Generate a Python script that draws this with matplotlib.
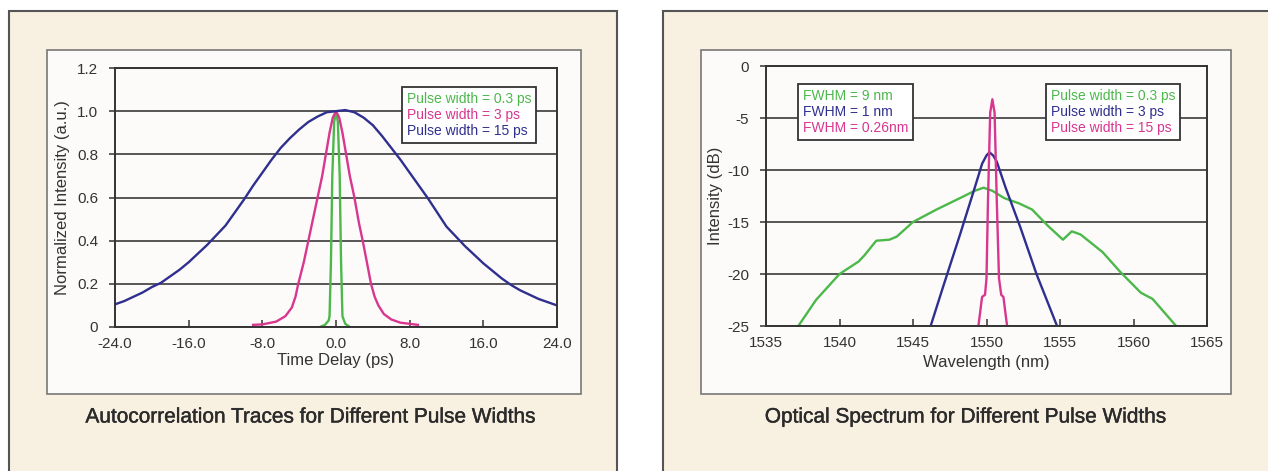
import matplotlib
matplotlib.use("Agg")
import matplotlib.pyplot as plt
import matplotlib.patheffects as pe
from matplotlib.patches import Rectangle

# --- data ---
# autocorrelation traces
t_03 = [-1.75, -1.2, -0.8, -0.7, -0.55, -0.4, -0.2, 0.0, 0.2, 0.4, 0.55, 0.7, 1.0, 1.5]
a_03 = [0.0, 0.01, 0.03, 0.05, 0.3, 0.7, 0.95, 1.0, 0.95, 0.7, 0.3, 0.05, 0.015, 0.0]

t_3 = [-9.0, -8.0, -6.5, -5.5, -4.8, -4.4, -4.1, -3.5, -3.0, -2.5, -2.0, -1.5, -1.1, -0.7, -0.35, 0.0,
       0.35, 0.7, 1.1, 1.5, 2.0, 2.5, 2.9, 3.4, 3.8, 4.2, 4.6, 5.2, 6.0, 7.0, 8.9]
a_3 = [0.01, 0.012, 0.025, 0.05, 0.09, 0.14, 0.2, 0.3, 0.4, 0.5, 0.6, 0.7, 0.8, 0.9, 0.97, 1.0,
       0.97, 0.9, 0.8, 0.7, 0.6, 0.48, 0.4, 0.29, 0.2, 0.14, 0.1, 0.06, 0.035, 0.02, 0.01]

t_15 = [-24, -23, -22, -21, -20, -19, -18, -17, -16, -15, -14, -13, -12, -11, -10, -9, -8,
        -7, -6, -5, -4, -3, -2, -1, 0, 1, 2, 3, 4, 5, 6, 7, 8, 9, 10, 11, 12, 13, 14, 15,
        16, 17, 18, 19, 20, 21, 22, 23, 24]
a_15 = [0.105, 0.12, 0.14, 0.16, 0.185, 0.205, 0.235, 0.265, 0.30, 0.34, 0.38, 0.425, 0.47,
        0.53, 0.59, 0.655, 0.715, 0.775, 0.83, 0.875, 0.915, 0.95, 0.975, 0.995, 1.0, 1.005,
        0.995, 0.97, 0.935, 0.885, 0.83, 0.775, 0.715, 0.655, 0.595, 0.53, 0.465, 0.42, 0.375,
        0.335, 0.295, 0.26, 0.225, 0.195, 0.17, 0.15, 0.13, 0.115, 0.10]

# optical spectra
wl_03 = [1537.2, 1538.4, 1540.0, 1541.3, 1541.7, 1542.5, 1543.4, 1543.9, 1545.0, 1546.6,
         1548.2, 1549.2, 1549.8, 1550.4, 1551.2, 1552.2, 1553.1, 1554.2, 1555.2, 1555.8,
         1556.4, 1557.9, 1559.1, 1560.5, 1561.3, 1562.9]
db_03 = [-25.0, -22.5, -20.0, -18.8, -18.2, -16.8, -16.7, -16.4, -15.0, -13.8,
         -12.7, -12.0, -11.7, -12.0, -12.7, -13.2, -13.8, -15.4, -16.7, -15.9,
         -16.2, -17.9, -19.8, -21.8, -22.4, -25.0]

wl_3 = [1546.2, 1547.1, 1548.2, 1549.2, 1549.7, 1550.0, 1550.2, 1550.45, 1550.7, 1551.3,
        1552.3, 1553.4, 1554.8]
db_3 = [-25.0, -21.0, -16.2, -11.7, -9.4, -8.6, -8.3, -8.6, -9.2, -11.7, -15.5, -20.0, -25.0]

wl_15 = [1549.45, 1549.7, 1549.9, 1550.0, 1550.1, 1550.25, 1550.4, 1550.55, 1550.7,
         1550.85, 1551.0, 1551.15, 1551.4]
db_15 = [-25.0, -22.2, -22.0, -20.4, -13.0, -4.5, -3.2, -4.5, -13.0,
         -20.4, -22.0, -22.2, -25.0]

pulse_labels = ["Pulse width = 0.3 ps", "Pulse width = 3 ps", "Pulse width = 15 ps"]
fwhm_labels = ["FWHM = 9 nm", "FWHM = 1 nm", "FWHM = 0.26nm"]
t_ticks = [-24, -16, -8, 0, 8, 16, 24]
a_ticks = [0, 0.2, 0.4, 0.6, 0.8, 1.0, 1.2]
wl_ticks = [1535, 1540, 1545, 1550, 1555, 1560, 1565]
db_ticks = [0, -5, -10, -15, -20, -25]

GREEN = "#4cb84a"
PINK = "#d8368f"
NAVY = "#2f2f8f"
BEIGE = "#f8f0e1"
INNER = "#fcfbfa"
DARK = "#3a3a3a"

plt.rcParams["font.family"] = ["Liberation Sans", "DejaVu Sans"]
plt.rcParams["axes.unicode_minus"] = False

W, H = 1268, 471
fig = plt.figure(figsize=(W / 100, H / 100), dpi=100)
fig.patch.set_facecolor("white")


def px_rect(x0, y0, x1, y1, fc, ec, lw):
    r = Rectangle((x0 / W, 1 - y1 / H), (x1 - x0) / W, (y1 - y0) / H,
                  transform=fig.transFigure, facecolor=fc, edgecolor=ec, linewidth=lw, zorder=-5)
    fig.patches.append(r)


# outer beige panels and inner white boxes
px_rect(9, 11, 617, 480, BEIGE, "#555555", 1.5)
px_rect(663, 11, 1280, 480, BEIGE, "#555555", 1.5)
px_rect(47, 50, 581, 394, INNER, "#777777", 1.2)
px_rect(701, 50, 1231, 394, INNER, "#777777", 1.2)


def axes_px(x0, y0, x1, y1):
    return fig.add_axes([x0 / W, 1 - y1 / H, (x1 - x0) / W, (y1 - y0) / H])


def style(ax):
    ax.set_facecolor("none")
    for s in ax.spines.values():
        s.set_color("#333333")
        s.set_linewidth(1.4)
    ax.grid(axis="y", color=DARK, linewidth=1.2)
    ax.set_axisbelow(True)
    ax.tick_params(axis="x", direction="in", length=5, width=1.1, color="#333333",
                   labelsize=11, labelcolor="#333333", pad=7)
    ax.tick_params(axis="y", direction="out", length=4, width=1.1, color="#333333",
                   labelsize=11, labelcolor="#333333", pad=8)


def text_legend(ax, handles, labels, x, y):
    leg = ax.legend(handles, labels, loc="upper left", bbox_to_anchor=(x, y),
                    borderaxespad=0, handlelength=0, handletextpad=0, fontsize=10,
                    labelcolor=[h.get_color() for h in handles], frameon=True,
                    fancybox=False, edgecolor="#333333", framealpha=1,
                    borderpad=0.35, labelspacing=0.15)
    leg.get_frame().set_linewidth(1.3)
    for h in leg.legend_handles:
        h.set_visible(False)
    return leg


# left: autocorrelation
ax1 = axes_px(115, 68, 557, 327)
style(ax1)
l1, = ax1.plot(t_03, a_03, color=GREEN, lw=1.7)
l2, = ax1.plot(t_3, a_3, color=PINK, lw=1.7)
l3, = ax1.plot(t_15, a_15, color=NAVY, lw=1.7)
ax1.set_xlim(-24, 24)
ax1.set_ylim(0, 1.2)
ax1.set_xticks(t_ticks)
ax1.set_xticklabels([f"{v:.1f}" for v in t_ticks])
ax1.set_yticks(a_ticks)
ax1.set_yticklabels(["0"] + [f"{v:.1f}" for v in a_ticks[1:]])
ax1.set_xlabel("Time Delay (ps)", fontsize=12, color="#333333", labelpad=2)
ax1.set_ylabel("Normalized Intensity (a.u.)", fontsize=12, color="#333333", labelpad=5)
text_legend(ax1, [l1, l2, l3], pulse_labels, 0.649, 0.927)

# right: optical spectrum
ax2 = axes_px(766, 66, 1207, 326)
style(ax2)
s1, = ax2.plot(wl_03, db_03, color=GREEN, lw=1.7)
s2, = ax2.plot(wl_3, db_3, color=NAVY, lw=1.7)
s3, = ax2.plot(wl_15, db_15, color=PINK, lw=1.7)
ax2.set_xlim(1535, 1565)
ax2.set_ylim(-25, 0)
ax2.set_xticks(wl_ticks)
ax2.set_yticks(db_ticks)
ax2.set_xlabel("Wavelength (nm)", fontsize=12, color="#333333", labelpad=4)
ax2.set_ylabel("Intensity (dB)", fontsize=12, color="#333333", labelpad=3)
leg_f = text_legend(ax2, [s1, s2, s3], fwhm_labels, 0.073, 0.931)
ax2.add_artist(leg_f)
text_legend(ax2, [s1, s2, s3], pulse_labels, 0.635, 0.931)

# captions
bold_ish = [pe.withStroke(linewidth=0.3, foreground="#2b2b2b")]
fig.text(311 / W, 1 - 417 / H, "Autocorrelation Traces for Different Pulse Widths",
         ha="center", va="center", fontsize=15, color="#2b2b2b", path_effects=bold_ish)
fig.text(966 / W, 1 - 417 / H, "Optical Spectrum for Different Pulse Widths",
         ha="center", va="center", fontsize=15, color="#2b2b2b", path_effects=bold_ish)

fig.savefig("out.png", dpi=100, facecolor=fig.get_facecolor())
